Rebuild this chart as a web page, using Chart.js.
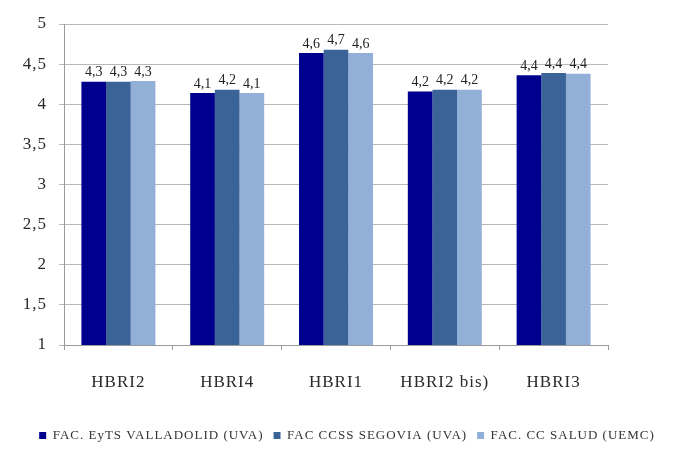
<!DOCTYPE html>
<html>
<head>
<meta charset="utf-8">
<style>
  html, body { margin: 0; padding: 0; background: #ffffff; }
  #wrap { width: 694px; height: 452px; }
</style>
<script src="https://cdn.jsdelivr.net/npm/chart.js@4/dist/chart.umd.min.js"></script>
</head>
<body>
<div id="wrap"><canvas id="chart" width="694" height="452"></canvas></div>
<script>
// Categories (items of the survey) and the mean score per faculty
const categories = ['HBRI2', 'HBRI4', 'HBRI1', 'HBRI2 bis)', 'HBRI3'];
const seriesNames = ['FAC. EyTS VALLADOLID (UVA)', 'FAC CCSS SEGOVIA (UVA)', 'FAC. CC SALUD (UEMC)'];
const valladolid = [4.28, 4.14, 4.64, 4.16, 4.36];
const segovia    = [4.28, 4.18, 4.68, 4.18, 4.39];
const salud      = [4.29, 4.14, 4.64, 4.18, 4.38];
const yTicks = [1, 1.5, 2, 2.5, 3, 3.5, 4, 4.5, 5];

const colors = ['#00008e', '#3a6397', '#92afd8'];
const serif = '"Liberation Serif", "DejaVu Serif", serif';
Chart.defaults.font.family = serif;

const fmt = v => String(v).replace('.', ',');

// Slightly tracked-out lettering for axis and legend text
const tracking = {
  id: 'tracking',
  beforeUpdate(chart) { chart.ctx.letterSpacing = '1px'; },
  beforeDraw(chart) { chart.ctx.letterSpacing = '1px'; }
};

// Value labels written above each bar, one decimal with a comma
const valueLabels = {
  id: 'valueLabels',
  afterDatasetsDraw(chart) {
    const ctx = chart.ctx;
    ctx.save();
    ctx.letterSpacing = '0px';
    ctx.font = '14px ' + serif;
    ctx.fillStyle = '#222222';
    ctx.textAlign = 'center';
    ctx.textBaseline = 'bottom';
    chart.data.datasets.forEach((ds, i) => {
      const meta = chart.getDatasetMeta(i);
      meta.data.forEach((bar, j) => {
        const txt = ds.data[j].toFixed(1).replace('.', ',');
        ctx.fillText(txt, bar.x, bar.y - 2);
      });
    });
    ctx.restore();
  }
};

const datasets = [valladolid, segovia, salud].map((d, i) => ({
  label: seriesNames[i],
  data: d,
  backgroundColor: colors[i],
  borderWidth: 0,
  categoryPercentage: 0.68,
  barPercentage: 1.0
}));

new Chart(document.getElementById('chart'), {
  type: 'bar',
  data: { labels: categories, datasets },
  plugins: [tracking, valueLabels],
  options: {
    responsive: false,
    animation: false,
    devicePixelRatio: 1,
    layout: { padding: { top: 24, right: 0, left: 0, bottom: 0 } },
    plugins: {
      tooltip: { enabled: false },
      legend: {
        position: 'bottom',
        labels: {
          font: { family: serif, size: 13 },
          color: '#333333',
          boxWidth: 7,
          boxHeight: 7,
          padding: 10
        }
      }
    },
    scales: {
      x: {
        grid: { drawOnChartArea: false, drawTicks: true, tickLength: 5, color: '#9a9a9a' },
        border: { color: '#9a9a9a' },
        ticks: { font: { family: serif, size: 17 }, color: '#2a2a2a', padding: 22 },
        afterFit(scale) { scale.height = 74; }
      },
      y: {
        min: 1,
        max: 5,
        afterBuildTicks(scale) { scale.ticks = yTicks.map(v => ({ value: v })); },
        grid: { color: '#b8b8b8', tickLength: 5 },
        border: { color: '#9a9a9a' },
        ticks: { font: { family: serif, size: 17 }, color: '#2a2a2a', padding: 12, callback: v => fmt(v) },
        afterFit(scale) { scale.width = 64; }
      },
      // empty margin on the right of the plot
      yRight: {
        position: 'right',
        display: true,
        grid: { display: false },
        border: { display: false },
        ticks: { display: false },
        afterFit(scale) { scale.width = 86; }
      }
    }
  }
});
</script>
</body>
</html>
